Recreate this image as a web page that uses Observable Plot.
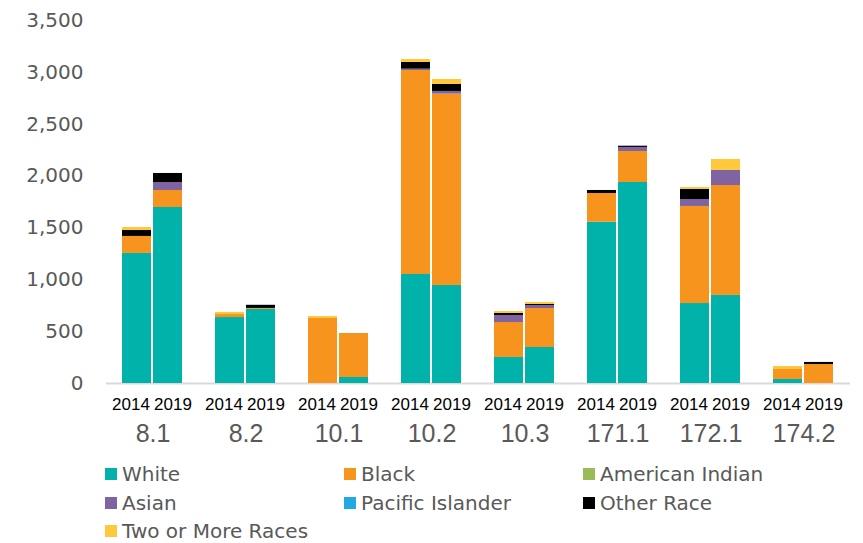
<!DOCTYPE html>
<html>
<head>
<meta charset="utf-8">
<script src="https://cdn.jsdelivr.net/npm/d3@7"></script>
<script src="https://cdn.jsdelivr.net/npm/@observablehq/plot@0.6"></script>
<style>
  body { margin: 0; background: #fff; }
  #chart svg { display: block; }
  .legend { display: grid; grid-template-columns: 239px 239px 239px; padding-left: 105px; padding-top: 5px;
    font-family: "DejaVu Sans", sans-serif; font-size: 20px; color: #595959; }
  .legend div { height: 28.5px; display: flex; align-items: center; white-space: nowrap; }
  .legend span.sw { width: 12px; height: 12px; margin-right: 5px; display: inline-block; }
</style>
</head>
<body>
<div id="chart"></div>
<div class="legend" id="legend"></div>
<script>
const categories = ["8.1", "8.2", "10.1", "10.2", "10.3", "171.1", "172.1", "174.2"];
const years = ["2014", "2019"];
const series = ["White", "Black", "American Indian", "Asian", "Pacific Islander", "Other Race", "Two or More Races"];
const colors = ["#00b2aa", "#f7941e", "#9bbb59", "#8064a2", "#23a9e1", "#000000", "#ffc83d"];

// values per category, [2014, 2019]
const white =          [[1254, 1697], [636, 714], [0, 58],   [1051, 945],  [251, 347], [1555, 1938], [771, 849],   [39, 0]];
const black =          [[164, 164],   [29, 10],   [627, 424], [1967, 1845], [337, 376], [277, 299],   [936, 1060],  [96, 183]];
const americanIndian = [[0, 0],       [0, 0],     [0, 0],     [0, 0],       [0, 0],     [0, 0],       [0, 0],       [0, 0]];
const asian =          [[0, 77],      [0, 0],     [0, 0],     [13, 26],     [68, 29],   [0, 39],      [67, 145],    [0, 0]];
const pacificIslander =[[0, 0],       [0, 0],     [0, 0],     [0, 0],       [0, 0],     [0, 0],       [0, 0],       [0, 0]];
const otherRace =      [[57, 87],     [0, 30],    [0, 0],     [64, 67],     [19, 10],   [29, 12],     [97, 0],      [0, 20]];
const twoOrMore =      [[29, 0],      [20, 0],    [19, 0],    [29, 48],     [19, 19],   [0, 0],       [19, 106],    [29, 0]];

const seriesValues = [white, black, americanIndian, asian, pacificIslander, otherRace, twoOrMore];
const yTicks = [0, 500, 1000, 1500, 2000, 2500, 3000, 3500];

const data = [];
series.forEach((s, si) => {
  categories.forEach((c, ci) => {
    years.forEach((y, yi) => {
      data.push({cat: c, year: y, race: s, value: seriesValues[si][ci][yi]});
    });
  });
});

const yearFont = "Liberation Sans Narrow, Liberation Sans, sans-serif";

const chart = Plot.plot({
  width: 863,
  height: 455,
  marginLeft: 103,
  marginRight: 10,
  marginTop: 20,
  marginBottom: 72,
  fx: {domain: categories, padding: 0, label: null},
  x: {domain: years, paddingInner: 0.0625, paddingOuter: 0.496, label: null},
  y: {domain: [0, 3500], label: null},
  color: {domain: series, range: colors},
  marks: [
    Plot.ruleY([0], {stroke: "#d9d9d9", strokeWidth: 2}),
    Plot.barY(data, {fx: "cat", x: "year", y: "value", fill: "race"}),
    Plot.axisY({ticks: yTicks, tickFormat: d3.format(","), tickSize: 0, tickPadding: 23,
      fontSize: 20, fontFamily: "DejaVu Sans", fill: "#595959", label: null}),
    Plot.axisX({ticks: [years[0]], tickSize: 0, tickPadding: 14, fontSize: 17, fontFamily: yearFont,
      fill: "#000", dx: -6, label: null}),
    Plot.axisX({ticks: [years[1]], tickSize: 0, tickPadding: 14, fontSize: 17, fontFamily: yearFont,
      fill: "#000", dx: 5, label: null}),
    Plot.axisFx({anchor: "bottom", tickSize: 0, tickPadding: 41, fontSize: 25,
      fontFamily: yearFont, fill: "#595959", label: null})
  ]
});
document.getElementById("chart").appendChild(chart);

const legend = document.getElementById("legend");
series.forEach((s, i) => {
  const d = document.createElement("div");
  const sw = document.createElement("span");
  sw.className = "sw";
  sw.style.background = colors[i];
  d.appendChild(sw);
  d.appendChild(document.createTextNode(s));
  legend.appendChild(d);
});
</script>
</body>
</html>
